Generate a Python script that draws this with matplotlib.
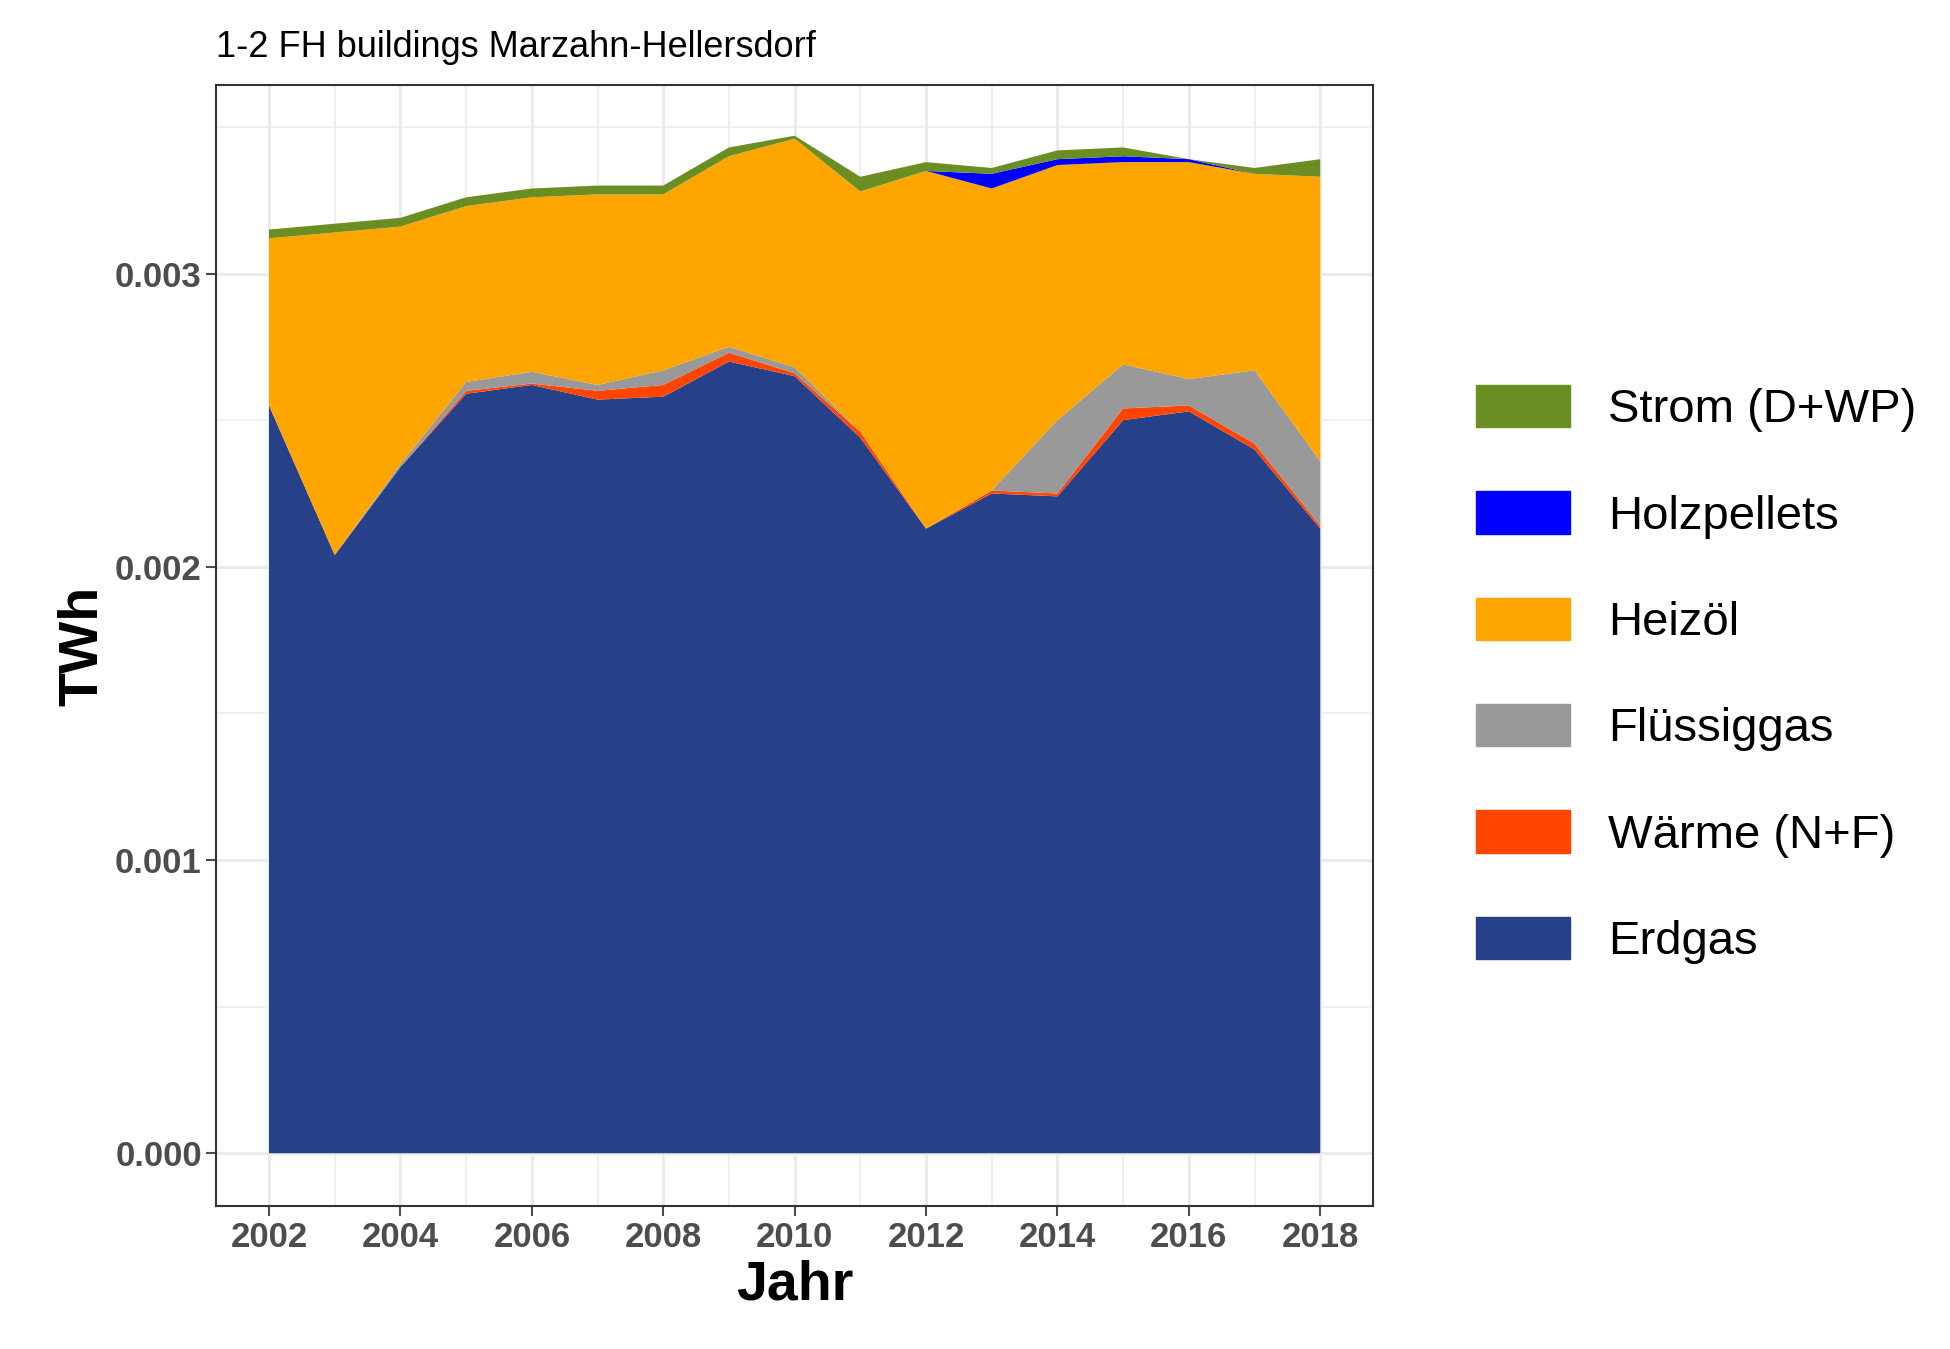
import numpy as np
import matplotlib.pyplot as plt
from matplotlib.patches import Patch

plt.rcParams['font.family'] = ['Liberation Sans', 'DejaVu Sans']

years = np.arange(2002, 2019)
erdgas = np.array([2.55, 2.04, 2.34, 2.59, 2.62, 2.57, 2.58, 2.70, 2.65, 2.44, 2.13, 2.25, 2.24, 2.50, 2.53, 2.40, 2.13]) * 1e-3
waerme = np.array([0, 0, 0, 0.01, 0.005, 0.03, 0.04, 0.03, 0.01, 0.02, 0, 0.01, 0.01, 0.04, 0.02, 0.02, 0.01]) * 1e-3
fluessiggas = np.array([0, 0, 0.01, 0.03, 0.04, 0.02, 0.05, 0.02, 0.02, 0, 0, 0, 0.25, 0.15, 0.09, 0.25, 0.22]) * 1e-3
heizoel = np.array([0.57, 1.10, 0.81, 0.60, 0.595, 0.65, 0.60, 0.65, 0.78, 0.82, 1.22, 1.03, 0.87, 0.69, 0.74, 0.67, 0.97]) * 1e-3
holzpellets = np.array([0, 0, 0, 0, 0, 0, 0, 0, 0, 0, 0, 0.05, 0.02, 0.02, 0.01, 0, 0]) * 1e-3
strom = np.array([0.03, 0.03, 0.03, 0.03, 0.03, 0.03, 0.03, 0.03, 0.01, 0.05, 0.03, 0.02, 0.03, 0.03, 0, 0.02, 0.06]) * 1e-3

labels = ['Erdgas', 'Wärme (N+F)', 'Flüssiggas', 'Heizöl', 'Holzpellets', 'Strom (D+WP)']
colors = ['#26418a', '#ff4500', '#999999', '#ffa500', '#0000ff', '#6b8e23']

fig = plt.figure(figsize=(19.5, 13.49), dpi=100)
ax = fig.add_axes([0.111, 0.106, 0.593, 0.831])
ax.stackplot(years, erdgas, waerme, fluessiggas, heizoel, holzpellets, strom, colors=colors)

ax.set_xlim(2001.2, 2018.8)
ax.set_ylim(-0.18e-3, 3.643e-3)
ax.set_xticks(np.arange(2002, 2019, 2))
ax.set_xticks(np.arange(2003, 2019, 2), minor=True)
ax.set_yticks([0, 0.001, 0.002, 0.003])
ax.set_yticklabels(['0.000', '0.001', '0.002', '0.003'])
ax.set_yticks([0.0005, 0.0015, 0.0025, 0.0035], minor=True)
ax.grid(True, which='major', color='#ebebeb', lw=2.2)
ax.grid(True, which='minor', color='#ebebeb', lw=1.1)
ax.set_axisbelow(True)
for s in ax.spines.values():
    s.set_color('#333333')
    s.set_linewidth(1.5)
ax.tick_params(which='major', labelsize=25, colors='#4d4d4d', length=7, width=1.5)
ax.tick_params(which='minor', length=0)
for t in ax.get_xticklabels() + ax.get_yticklabels():
    t.set_fontweight('bold')
ax.set_xlabel('Jahr', fontsize=40, fontweight='bold')
ax.set_ylabel('TWh', fontsize=40, fontweight='bold')
ax.set_title('1-2 FH buildings Marzahn-Hellersdorf', fontsize=26, loc='left', pad=20)

handles = [Patch(color=c, label=l) for c, l in zip(colors, labels)][::-1]
fig.legend(handles=handles, loc='center left', bbox_to_anchor=(0.735, 0.5), frameon=False,
           fontsize=34, handlelength=2.0, handleheight=1.0, labelspacing=1.25, handletextpad=0.8)

fig.savefig('out.png', dpi=100)
